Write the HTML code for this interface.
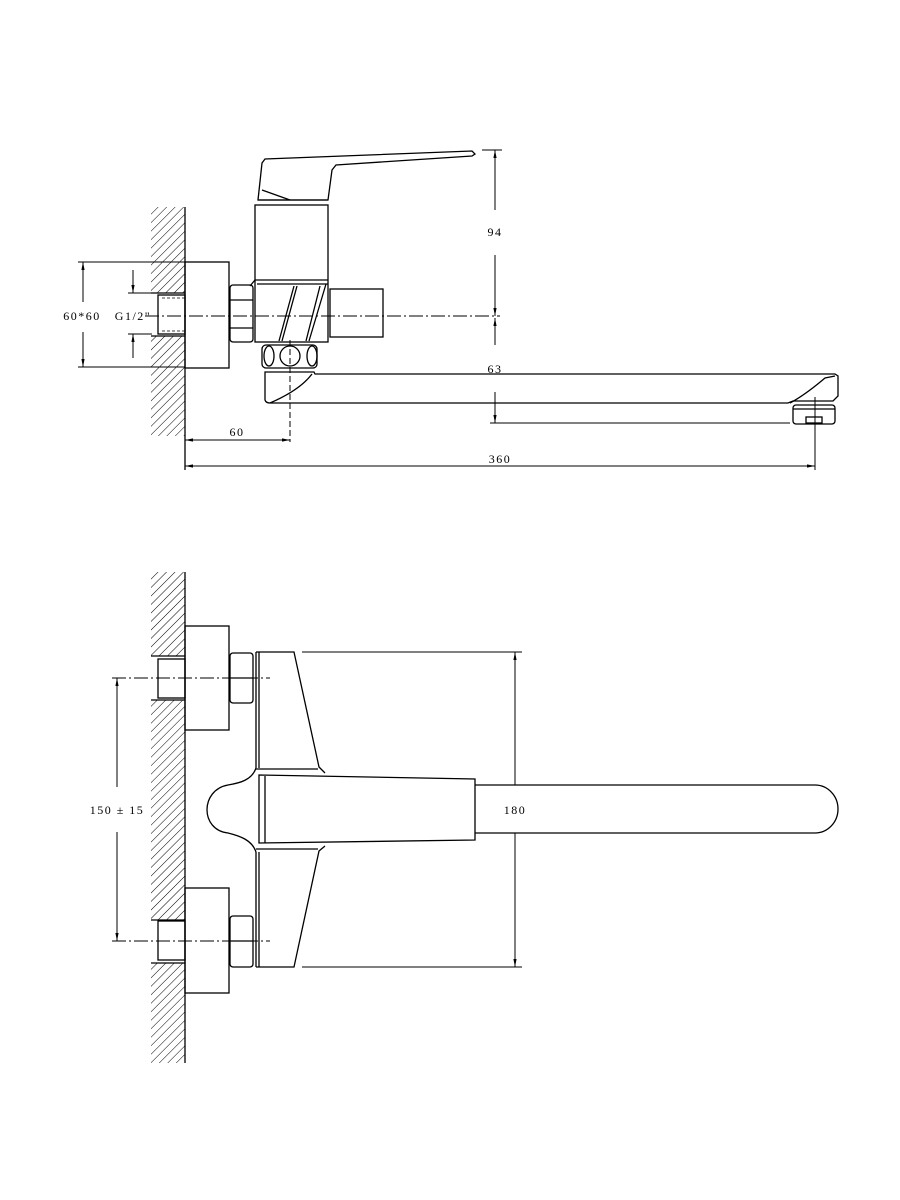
<!DOCTYPE html>
<html><head><meta charset="utf-8"><style>
html,body{margin:0;padding:0;background:#fff;}
svg{display:block;}
text{font-family:"Liberation Serif",serif;font-size:12px;fill:#000;letter-spacing:1.5px;}
</style></head><body>
<svg width="900" height="1200" viewBox="0 0 900 1200" xmlns="http://www.w3.org/2000/svg">
<defs>
<pattern id="h" width="6" height="6" patternUnits="userSpaceOnUse" patternTransform="rotate(45)">
<line x1="0" y1="0" x2="0" y2="6" stroke="#000" stroke-width="1"/>
</pattern>
<marker id="a" viewBox="0 0 10 10" refX="10" refY="5" markerWidth="8" markerHeight="8" orient="auto-start-reverse" markerUnits="userSpaceOnUse">
<path d="M0,3 L10,5 L0,7 z" fill="#000"/>
</marker>
</defs>
<g fill="none" stroke="#000" stroke-width="1.3">
<!-- ===== TOP VIEW ===== -->
<rect x="151" y="207" width="34" height="86" fill="url(#h)" stroke="none"/>
<rect x="151" y="336" width="34" height="100" fill="url(#h)" stroke="none"/>
<line x1="185" y1="207" x2="185" y2="470"/>
<line x1="151" y1="293" x2="185" y2="293"/><line x1="151" y1="336" x2="185" y2="336"/>
<rect x="158" y="295" width="27" height="39"/>
<line x1="162" y1="298" x2="185" y2="298" stroke-dasharray="3,2" stroke-width="0.8"/>
<line x1="162" y1="331" x2="185" y2="331" stroke-dasharray="3,2" stroke-width="0.8"/>
<rect x="185" y="262" width="44" height="106"/>
<rect x="230" y="285" width="23" height="57" rx="3"/>
<line x1="230" y1="300" x2="253" y2="300"/><line x1="230" y1="328" x2="253" y2="328"/>
<rect x="255" y="205" width="73" height="137"/>
<line x1="255" y1="280" x2="328" y2="280"/><line x1="257" y1="284" x2="328" y2="284"/>
<line x1="279" y1="341" x2="294" y2="286"/><line x1="282" y1="341" x2="297" y2="286"/>
<line x1="306" y1="341" x2="320" y2="286"/><line x1="309" y1="341" x2="326" y2="284"/>
<line x1="250" y1="286" x2="255" y2="280"/>
<rect x="330" y="289" width="53" height="48"/>
<!-- handle -->
<path d="M258,200 L262,163 L265,159 L472,151 L475,154 L472,156 L336,165 L332,170 L328,200 Z"/>
<path d="M262,190 L290,200"/><line x1="258" y1="200" x2="328" y2="200"/>
<!-- rollers -->
<rect x="262" y="345" width="55" height="23" rx="4"/>
<ellipse cx="269" cy="356" rx="5" ry="10"/><circle cx="290" cy="356" r="10"/><ellipse cx="312" cy="356" rx="5" ry="10"/>
<!-- spout -->
<path d="M265,372 L265,400 Q266,403 270,403 L788,403 L793,401 L833,401 L838,396 L838,376 L835,374 L315,374 L314,372 Z"/>
<path d="M270,403 Q300,390 312,374"/>
<path d="M790,403 Q805,395 825,378 L835,376"/>
<rect x="793" y="405" width="42" height="19" rx="3"/>
<line x1="793" y1="409" x2="835" y2="409"/>
<rect x="806" y="417" width="16" height="6"/>
<!-- centerlines -->
<line x1="145" y1="316" x2="500" y2="316" stroke-width="1" stroke-dasharray="14,3,2,3"/>
<line x1="290" y1="340" x2="290" y2="442" stroke-width="1" stroke-dasharray="6,3"/>
<line x1="815" y1="397" x2="815" y2="470" stroke-width="1"/>
<!-- dimensions top -->
<g stroke-width="1">
<line x1="482" y1="150" x2="502" y2="150"/>
<line x1="495" y1="150" x2="495" y2="210" marker-start="url(#a)"/>
<line x1="495" y1="255" x2="495" y2="316" marker-end="url(#a)"/>
<line x1="495" y1="345" x2="495" y2="318" marker-end="url(#a)"/>
<line x1="495" y1="392" x2="495" y2="423" marker-end="url(#a)"/>
<line x1="490" y1="423" x2="790" y2="423"/>
<line x1="185" y1="440" x2="290" y2="440" marker-start="url(#a)" marker-end="url(#a)"/>
<line x1="185" y1="466" x2="815" y2="466" marker-start="url(#a)" marker-end="url(#a)"/>
<line x1="78" y1="262" x2="185" y2="262"/><line x1="78" y1="367" x2="185" y2="367"/>
<line x1="83" y1="302" x2="83" y2="262" marker-end="url(#a)"/>
<line x1="83" y1="332" x2="83" y2="367" marker-end="url(#a)"/>
<line x1="128" y1="293" x2="152" y2="293"/><line x1="128" y1="334" x2="152" y2="334"/>
<line x1="133" y1="270" x2="133" y2="293" marker-end="url(#a)"/>
<line x1="133" y1="358" x2="133" y2="334" marker-end="url(#a)"/>
</g>
<!-- ===== BOTTOM VIEW ===== -->
<rect x="151" y="572" width="34" height="84" fill="url(#h)" stroke="none"/>
<rect x="151" y="700" width="34" height="220" fill="url(#h)" stroke="none"/>
<rect x="151" y="963" width="34" height="100" fill="url(#h)" stroke="none"/>
<line x1="185" y1="572" x2="185" y2="1063"/>
<line x1="151" y1="656" x2="185" y2="656"/><line x1="151" y1="700" x2="185" y2="700"/>
<line x1="151" y1="920" x2="185" y2="920"/><line x1="151" y1="963" x2="185" y2="963"/>
<rect x="158" y="659" width="27" height="39"/>
<rect x="158" y="921" width="27" height="39"/>
<rect x="185" y="626" width="44" height="104"/>
<rect x="185" y="888" width="44" height="105"/>
<rect x="230" y="653" width="23" height="50" rx="3"/><line x1="230" y1="678" x2="253" y2="678"/>
<rect x="230" y="916" width="23" height="51" rx="3"/><line x1="230" y1="941" x2="253" y2="941"/>
<!-- plates -->
<path d="M256,652 L294,652 L319,767 L325,773 M256,652 L256,768"/>
<line x1="256" y1="769" x2="318" y2="769"/>
<path d="M256,967 L294,967 L319,851 L325,846 M256,967 L256,852"/>
<line x1="256" y1="849" x2="318" y2="849"/>
<line x1="259" y1="652" x2="259" y2="768"/><line x1="259" y1="852" x2="259" y2="967"/>
<!-- bump -->
<path d="M256,768 C252,780 240,783 228,785 C200,790 200,830 228,833 C240,836 252,840 256,852"/>
<!-- lever -->
<path d="M259,775 L475,779 L475,840 L259,843 Z"/>
<line x1="265" y1="776" x2="265" y2="843"/>
<path d="M475,785 L815,785 A23,24 0 0 1 815,833 L475,833"/>
<!-- centerlines -->
<line x1="112" y1="678" x2="270" y2="678" stroke-width="1" stroke-dasharray="14,3,2,3"/>
<line x1="112" y1="941" x2="270" y2="941" stroke-width="1" stroke-dasharray="14,3,2,3"/>
<g stroke-width="1">
<line x1="302" y1="652" x2="522" y2="652"/><line x1="302" y1="967" x2="522" y2="967"/>
<line x1="515" y1="785" x2="515" y2="652" marker-end="url(#a)"/>
<line x1="515" y1="833" x2="515" y2="967" marker-end="url(#a)"/>
<line x1="117" y1="787" x2="117" y2="678" marker-end="url(#a)"/>
<line x1="117" y1="832" x2="117" y2="941" marker-end="url(#a)"/>
</g>
</g>
<text x="495" y="236" text-anchor="middle">94</text>
<text x="495" y="373" text-anchor="middle">63</text>
<text x="237" y="436" text-anchor="middle">60</text>
<text x="500" y="463" text-anchor="middle">360</text>
<text x="82" y="320" text-anchor="middle">60*60</text>
<text x="133" y="320" text-anchor="middle">G1/2"</text>
<text x="515" y="814" text-anchor="middle">180</text>
<text x="117" y="814" text-anchor="middle" letter-spacing="0.5">150 ± 15</text>
</svg>
</body></html>
